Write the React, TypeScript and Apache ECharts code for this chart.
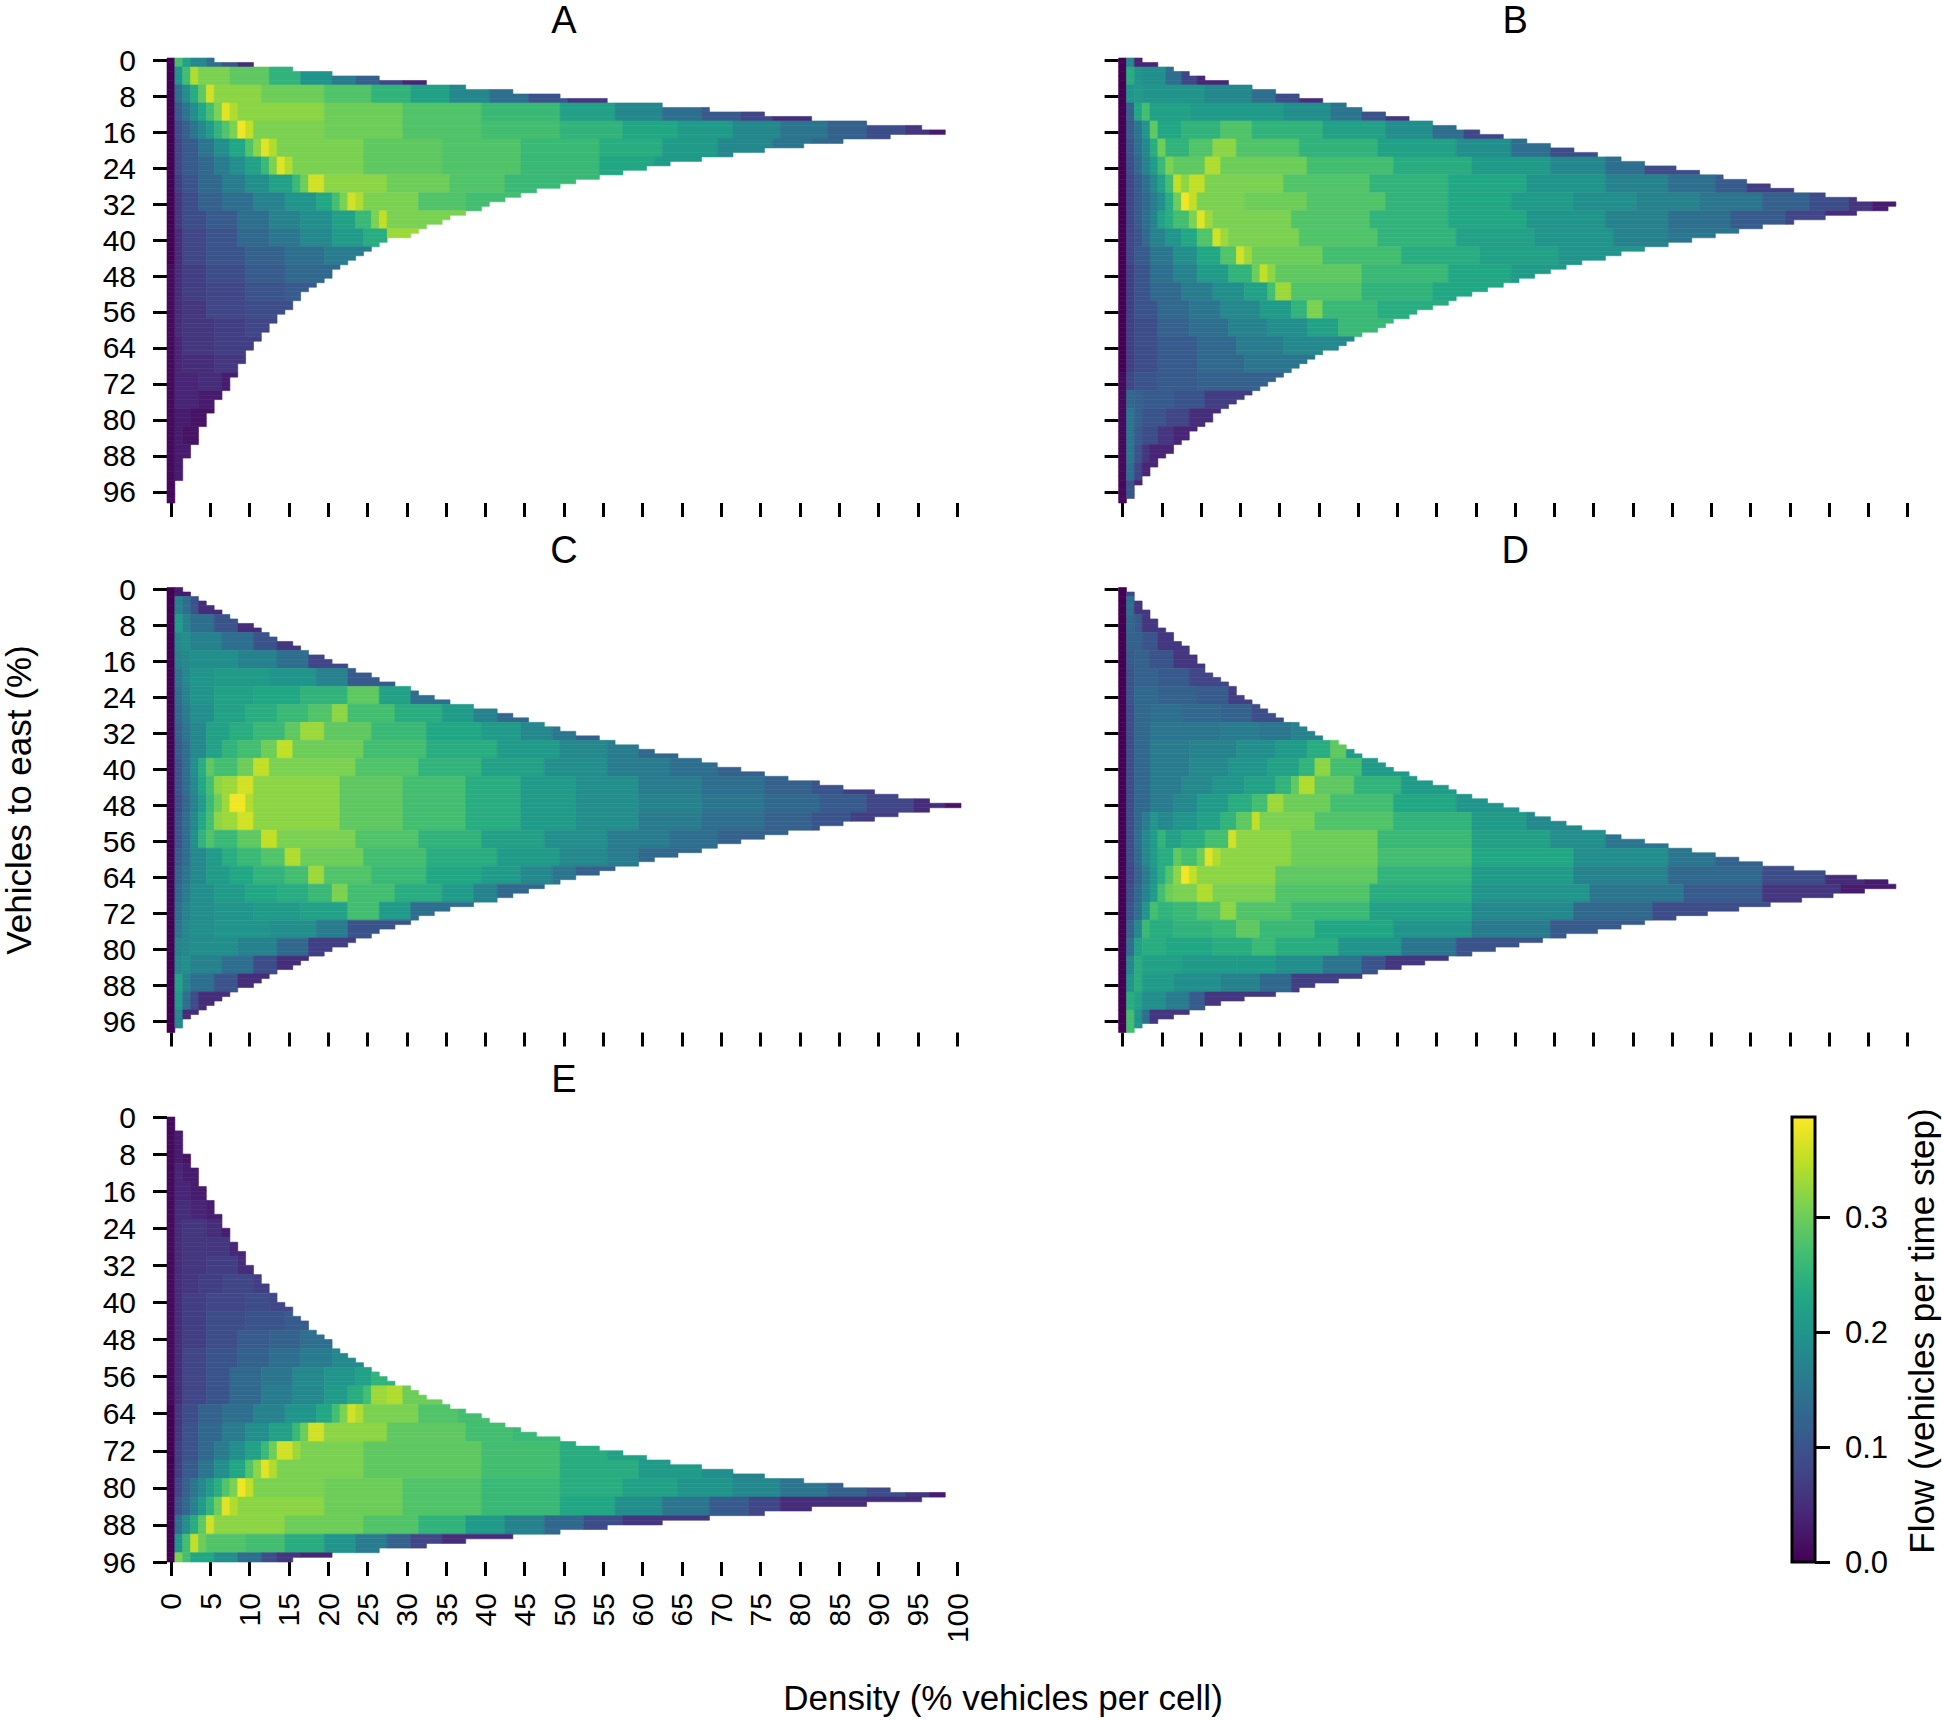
import React, { useEffect, useRef } from 'react';
import * as echarts from 'echarts';

// ---------- tick labels ----------
const X_TICKS = [0, 5, 10, 15, 20, 25, 30, 35, 40, 45, 50, 55, 60, 65, 70, 75, 80, 85, 90, 95, 100];
const Y_TICKS = [0, 8, 16, 24, 32, 40, 48, 56, 64, 72, 80, 88, 96];
const CBAR_TICKS = [0, 0.1, 0.2, 0.3];
const CBAR_MAX = 0.387;
const PANEL_NAMES = ['A', 'B', 'C', 'D', 'E'];
const VIRIDIS = ['#440154', '#482475', '#414487', '#355f8d', '#2a788e', '#21918c', '#22a884', '#44bf70', '#7ad151', '#bddf26', '#fde725'];

// ---------- data: last occupied density column (%) for each "vehicles to east" row ----------
const MAX_COL_A = [5, 10, 15, 20, 26, 32, 37, 43, 49, 55, 62, 68, 75, 81, 88, 95, 98, 91, 85, 80, 75, 71, 67, 63, 60, 57, 54, 51, 49, 46, 44, 42, 40, 39, 37, 35, 34, 32, 31, 30, 27, 26, 25, 24, 23, 22, 21, 20, 20, 19, 18, 17, 16, 16, 15, 15, 14, 13, 13, 12, 12, 11, 11, 10, 10, 9, 9, 9, 8, 8, 8, 7, 7, 7, 6, 6, 5, 5, 5, 4, 4, 4, 3, 3, 3, 3, 2, 2, 2, 1, 1, 1, 1, 1, 0, 0, 0, 0, 0];
const MAX_COL_B = [2, 4, 6, 8, 10, 13, 16, 19, 22, 25, 28, 30, 33, 36, 39, 42, 45, 48, 51, 54, 57, 60, 63, 66, 70, 73, 76, 79, 82, 85, 89, 93, 98, 97, 93, 89, 85, 81, 78, 75, 72, 69, 66, 63, 61, 58, 56, 54, 52, 50, 48, 46, 44, 42, 41, 39, 37, 36, 34, 33, 32, 30, 29, 28, 27, 25, 24, 23, 22, 21, 20, 19, 18, 17, 16, 15, 14, 13, 12, 11, 11, 10, 9, 8, 8, 7, 6, 6, 5, 4, 4, 3, 3, 2, 2, 1, 1, 1, 0];
const MAX_COL_C = [1, 2, 3, 4, 5, 6, 7, 8, 10, 11, 12, 13, 15, 16, 17, 19, 20, 22, 23, 25, 26, 28, 30, 31, 33, 35, 38, 41, 43, 45, 47, 49, 51, 54, 56, 59, 61, 64, 67, 69, 72, 75, 78, 82, 85, 89, 92, 96, 100, 96, 92, 89, 85, 82, 78, 75, 72, 69, 67, 64, 61, 59, 56, 54, 51, 49, 47, 45, 43, 41, 38, 35, 33, 31, 30, 28, 26, 25, 23, 22, 20, 19, 17, 16, 15, 13, 12, 11, 10, 8, 7, 6, 5, 4, 3, 2, 1, 1, 0];
const MAX_COL_D = [0, 1, 1, 2, 2, 3, 3, 4, 4, 5, 6, 6, 7, 8, 8, 9, 9, 10, 10, 11, 12, 13, 14, 14, 15, 16, 17, 18, 19, 20, 22, 23, 24, 25, 27, 28, 29, 30, 32, 33, 34, 36, 37, 39, 41, 42, 44, 46, 48, 50, 52, 54, 56, 58, 61, 63, 66, 69, 72, 75, 78, 81, 85, 89, 93, 97, 98, 94, 90, 86, 82, 78, 74, 70, 66, 63, 60, 56, 53, 50, 47, 44, 41, 38, 35, 32, 30, 27, 24, 22, 19, 15, 12, 10, 8, 6, 4, 2, 1];
const MAX_COL_E = [0, 0, 0, 1, 1, 1, 1, 1, 2, 2, 2, 3, 3, 3, 3, 4, 4, 4, 5, 5, 5, 6, 6, 6, 7, 7, 7, 8, 8, 9, 9, 9, 10, 10, 11, 11, 12, 12, 13, 13, 14, 15, 15, 16, 17, 17, 18, 19, 20, 20, 21, 22, 23, 24, 25, 26, 27, 28, 30, 31, 32, 34, 35, 37, 39, 40, 42, 44, 46, 49, 51, 54, 57, 60, 63, 67, 71, 75, 80, 85, 91, 98, 95, 88, 81, 75, 68, 62, 55, 49, 43, 37, 32, 26, 20, 15];

// ---------- data: flow (x100) read every 4th row, as [first density column, flow] runs ----------
const FLOW_A = [
  [[0, 0], [1, 27], [2, 22], [3, 18], [5, 14], [7, 10], [9, 5]],
  [[0, 0], [1, 20], [2, 27], [3, 34], [4, 31], [8, 29], [13, 25], [17, 20], [21, 16], [24, 12], [27, 8], [30, 4]],
  [[0, 0], [1, 14], [2, 19], [3, 24], [4, 29], [5, 36], [6, 32], [12, 30], [20, 28], [26, 25], [31, 22], [36, 18], [41, 14], [46, 10], [51, 6]],
  [[0, 0], [1, 11], [2, 15], [3, 19], [4, 23], [5, 27], [6, 31], [7, 37], [8, 34], [9, 32], [20, 30], [30, 28], [40, 26], [50, 22], [57, 18], [63, 14], [68, 11], [73, 8], [77, 5]],
  [[0, 0], [1, 9], [2, 12], [3, 15], [4, 18], [5, 21], [6, 25], [7, 28], [8, 31], [9, 38], [10, 35], [11, 31], [20, 30], [30, 28], [40, 27], [50, 25], [58, 23], [65, 21], [72, 18], [78, 15], [84, 12], [89, 9], [94, 6], [97, 3]],
  [[0, 0], [1, 8], [2, 11], [4, 15], [6, 19], [8, 23], [10, 28], [11, 32], [12, 37], [13, 34], [14, 31], [25, 29], [35, 28], [45, 26], [55, 24], [63, 21], [70, 18], [77, 15], [82, 13]],
  [[0, 0], [1, 8], [2, 11], [4, 13], [6, 16], [8, 19], [10, 22], [12, 26], [13, 31], [14, 37], [15, 34], [16, 31], [25, 29], [35, 28], [45, 26], [55, 23], [62, 21]],
  [[0, 0], [1, 7], [2, 10], [4, 13], [7, 16], [10, 19], [13, 22], [16, 26], [17, 30], [18, 36], [20, 32], [28, 30], [36, 28], [43, 26]],
  [[0, 0], [1, 6], [2, 9], [4, 12], [7, 14], [11, 17], [15, 20], [19, 23], [21, 27], [22, 31], [23, 36], [24, 34], [25, 31], [32, 28], [38, 27]],
  [[0, 0], [1, 6], [2, 9], [5, 11], [9, 14], [13, 17], [17, 19], [21, 22], [24, 26], [26, 31], [27, 35], [28, 31]],
  [[0, 0], [1, 5], [2, 8], [5, 10], [9, 13], [13, 15], [17, 18], [21, 21], [25, 24], [28, 33]],
  [[0, 0], [1, 5], [2, 8], [5, 10], [10, 12], [15, 14], [20, 16]],
  [[0, 1], [1, 5], [2, 7], [5, 9], [10, 11], [15, 13]],
  [[0, 1], [1, 5], [2, 7], [5, 8], [10, 10], [15, 11]],
  [[0, 1], [1, 5], [2, 6], [5, 8], [10, 9]],
  [[0, 1], [1, 5], [2, 6], [6, 7], [10, 8]],
  [[0, 1], [1, 4], [2, 6], [6, 7]],
  [[0, 1], [1, 4], [2, 5], [6, 6]],
  [[0, 1], [1, 4], [4, 5], [7, 3]],
  [[0, 1], [1, 4], [4, 3]],
  [[0, 1], [1, 3], [3, 2]],
  [[0, 1], [1, 3], [2, 2]],
  [[0, 1], [1, 3]],
  [[0, 1], [1, 3]],
  [[0, 1]],
];

const FLOW_B = [
  [[0, 0], [1, 18], [2, 4]],
  [[0, 0], [1, 24], [2, 20], [3, 19], [6, 14], [8, 8], [10, 4]],
  [[0, 0], [1, 20], [2, 21], [3, 20], [11, 18], [17, 14], [20, 9], [23, 5]],
  [[0, 0], [1, 12], [2, 23], [3, 27], [4, 22], [9, 21], [21, 19], [27, 15], [31, 10], [34, 6]],
  [[0, 0], [1, 11], [2, 15], [3, 20], [4, 29], [5, 23], [8, 25], [13, 28], [17, 25], [26, 22], [34, 19], [40, 14], [44, 8]],
  [[0, 0], [1, 10], [2, 14], [3, 18], [4, 24], [5, 30], [6, 25], [9, 28], [12, 32], [15, 28], [23, 25], [33, 22], [43, 19], [50, 14], [55, 9]],
  [[0, 0], [1, 9], [2, 13], [3, 17], [4, 21], [5, 26], [6, 31], [7, 29], [11, 34], [13, 30], [24, 27], [35, 24], [45, 21], [55, 18], [62, 14], [67, 9]],
  [[0, 0], [1, 8], [2, 11], [3, 14], [4, 18], [5, 22], [6, 27], [7, 35], [8, 32], [9, 35], [11, 31], [21, 28], [32, 25], [42, 23], [52, 20], [62, 17], [70, 14], [76, 11], [80, 7]],
  [[0, 0], [1, 8], [2, 11], [3, 13], [4, 16], [5, 19], [6, 24], [7, 30], [8, 38], [9, 35], [10, 31], [16, 30], [24, 28], [34, 25], [42, 23], [50, 21], [58, 19], [66, 17], [74, 15], [82, 12], [88, 9], [93, 6], [96, 3]],
  [[0, 0], [1, 8], [2, 11], [3, 14], [4, 17], [5, 22], [6, 24], [7, 27], [9, 31], [10, 37], [11, 33], [12, 31], [22, 28], [32, 25], [42, 23], [52, 20], [62, 17], [70, 14], [78, 11], [85, 8], [90, 5]],
  [[0, 0], [1, 8], [2, 10], [3, 13], [4, 17], [6, 20], [8, 23], [10, 28], [12, 36], [13, 33], [14, 31], [23, 28], [33, 25], [43, 22], [53, 20], [63, 17], [70, 15]],
  [[0, 0], [1, 8], [2, 11], [4, 15], [7, 19], [10, 23], [13, 28], [15, 36], [16, 33], [17, 30], [26, 27], [36, 24], [46, 22], [56, 20]],
  [[0, 0], [1, 7], [2, 10], [4, 14], [7, 17], [10, 21], [14, 25], [17, 30], [18, 35], [19, 32], [20, 29], [31, 26], [42, 23], [50, 21]],
  [[0, 0], [1, 7], [2, 10], [4, 13], [8, 16], [12, 19], [16, 22], [19, 27], [20, 33], [22, 28], [31, 25], [40, 23]],
  [[0, 0], [1, 7], [2, 10], [5, 13], [9, 15], [13, 18], [18, 21], [22, 25], [24, 31], [26, 26], [33, 24]],
  [[0, 0], [1, 7], [2, 9], [5, 12], [9, 14], [14, 17], [19, 19], [24, 22], [28, 26]],
  [[0, 0], [1, 7], [2, 9], [5, 11], [10, 13], [15, 16], [21, 18]],
  [[0, 0], [1, 7], [2, 9], [5, 11], [10, 13], [16, 15]],
  [[0, 1], [1, 8], [2, 10], [5, 11], [10, 12]],
  [[0, 1], [1, 13], [2, 12], [3, 11], [7, 10], [11, 7]],
  [[0, 1], [1, 15], [2, 12], [3, 10], [6, 8], [9, 5]],
  [[0, 1], [1, 15], [2, 11], [3, 9], [5, 6], [7, 4]],
  [[0, 1], [1, 15], [2, 10], [3, 6], [4, 4]],
  [[0, 1], [1, 14], [2, 8], [3, 4]],
  [[0, 1], [1, 10], [2, 4]],
];

const FLOW_C = [
  [[0, 0], [1, 3]],
  [[0, 0], [1, 17], [2, 14], [3, 10], [4, 5]],
  [[0, 0], [1, 21], [2, 17], [3, 14], [6, 10], [9, 5]],
  [[0, 0], [1, 18], [2, 19], [3, 17], [7, 14], [11, 10], [14, 6]],
  [[0, 0], [1, 17], [2, 18], [3, 19], [9, 17], [14, 14], [18, 8]],
  [[0, 0], [1, 15], [2, 18], [3, 20], [6, 21], [13, 20], [19, 17], [23, 11]],
  [[0, 0], [1, 14], [2, 17], [3, 20], [6, 22], [11, 23], [17, 25], [23, 29], [27, 22], [31, 14]],
  [[0, 0], [1, 13], [2, 16], [3, 19], [6, 22], [10, 24], [14, 26], [18, 28], [21, 32], [23, 27], [29, 24], [35, 21], [39, 17], [42, 13]],
  [[0, 0], [1, 12], [2, 15], [3, 18], [5, 22], [8, 24], [11, 26], [15, 29], [17, 33], [20, 29], [26, 26], [33, 23], [40, 21], [45, 18], [49, 15], [52, 12]],
  [[0, 0], [1, 11], [2, 14], [3, 18], [5, 22], [7, 25], [9, 27], [12, 30], [14, 35], [16, 30], [25, 27], [33, 24], [42, 21], [50, 18], [56, 16], [60, 13]],
  [[0, 0], [1, 10], [2, 14], [3, 19], [4, 24], [5, 29], [6, 27], [9, 30], [11, 35], [13, 31], [24, 28], [32, 25], [40, 22], [48, 19], [56, 16], [64, 14], [70, 12]],
  [[0, 0], [1, 10], [2, 14], [3, 18], [4, 23], [5, 27], [6, 32], [7, 33], [9, 36], [11, 32], [22, 29], [30, 27], [38, 24], [45, 21], [52, 19], [60, 16], [68, 14], [76, 12], [82, 10], [86, 7]],
  [[0, 0], [1, 9], [2, 13], [3, 17], [4, 21], [5, 26], [6, 30], [7, 33], [8, 38], [10, 34], [11, 32], [22, 29], [30, 27], [38, 24], [45, 21], [52, 19], [60, 17], [68, 15], [76, 13], [83, 11], [89, 8], [95, 5], [99, 2]],
  [[0, 0], [1, 10], [2, 14], [3, 18], [4, 23], [5, 27], [6, 32], [7, 33], [9, 36], [11, 32], [22, 29], [30, 27], [38, 24], [45, 21], [52, 19], [60, 16], [68, 14], [76, 12], [82, 10], [87, 7]],
  [[0, 0], [1, 10], [2, 14], [3, 19], [4, 25], [5, 28], [6, 26], [9, 29], [12, 35], [14, 31], [24, 28], [32, 25], [40, 22], [48, 19], [56, 16], [64, 14], [70, 12]],
  [[0, 0], [1, 11], [2, 14], [3, 18], [5, 21], [7, 24], [9, 26], [12, 28], [15, 34], [17, 30], [25, 27], [33, 24], [42, 21], [50, 18], [56, 16], [60, 13]],
  [[0, 0], [1, 12], [2, 15], [3, 18], [5, 21], [8, 23], [11, 25], [15, 27], [18, 33], [20, 28], [26, 26], [33, 23], [40, 21], [45, 18], [49, 15], [52, 12]],
  [[0, 0], [1, 13], [2, 16], [3, 19], [6, 21], [10, 23], [14, 24], [18, 26], [21, 31], [23, 27], [29, 24], [35, 21], [39, 17], [42, 13]],
  [[0, 0], [1, 14], [2, 17], [3, 19], [6, 20], [11, 21], [17, 22], [23, 27], [27, 21], [31, 14]],
  [[0, 0], [1, 15], [2, 18], [3, 19], [6, 20], [13, 19], [19, 16], [23, 10]],
  [[0, 0], [1, 17], [2, 18], [3, 19], [9, 17], [14, 13], [18, 7]],
  [[0, 0], [1, 18], [2, 19], [3, 17], [7, 14], [11, 9], [14, 5]],
  [[0, 0], [1, 22], [2, 17], [3, 14], [6, 10], [9, 5]],
  [[0, 0], [1, 21], [2, 14], [3, 9], [4, 5]],
  [[0, 0], [1, 18], [2, 5]],
];

const FLOW_D = [
  [[0, 0], [1, 8]],
  [[0, 0], [1, 14], [2, 6]],
  [[0, 0], [1, 13], [2, 11], [3, 6]],
  [[0, 0], [1, 12], [3, 10], [5, 6]],
  [[0, 0], [1, 11], [2, 12], [4, 10], [7, 6]],
  [[0, 0], [1, 10], [2, 12], [5, 11], [9, 8]],
  [[0, 0], [1, 10], [2, 13], [5, 12], [10, 11], [14, 7]],
  [[0, 0], [1, 9], [2, 13], [4, 14], [8, 13], [13, 12], [17, 9]],
  [[0, 0], [1, 9], [2, 13], [4, 15], [13, 16], [18, 15], [22, 17]],
  [[0, 0], [1, 9], [2, 13], [4, 16], [9, 17], [15, 19], [20, 21], [24, 24], [27, 29], [29, 21]],
  [[0, 0], [1, 9], [2, 13], [4, 16], [9, 18], [14, 20], [19, 22], [23, 25], [25, 32], [27, 27], [31, 21]],
  [[0, 0], [1, 9], [2, 13], [4, 16], [8, 18], [12, 20], [16, 22], [20, 25], [22, 29], [23, 34], [25, 29], [30, 25], [36, 21]],
  [[0, 0], [1, 9], [2, 13], [4, 16], [7, 18], [10, 21], [14, 24], [17, 27], [19, 33], [21, 30], [27, 27], [35, 23], [43, 20]],
  [[0, 0], [1, 9], [2, 13], [3, 16], [4, 20], [5, 18], [7, 20], [10, 22], [13, 25], [15, 29], [17, 35], [18, 31], [25, 28], [35, 25], [45, 21], [52, 18]],
  [[0, 0], [1, 9], [2, 14], [3, 18], [4, 21], [5, 25], [6, 22], [8, 24], [11, 27], [14, 36], [15, 32], [22, 30], [33, 26], [45, 22], [55, 19], [62, 15]],
  [[0, 0], [1, 9], [2, 13], [3, 18], [4, 21], [5, 24], [7, 29], [8, 27], [10, 30], [11, 37], [12, 34], [13, 32], [22, 30], [33, 27], [45, 23], [58, 19], [70, 15], [76, 12]],
  [[0, 0], [1, 8], [2, 12], [3, 16], [4, 20], [5, 24], [6, 28], [7, 32], [8, 38], [9, 35], [10, 32], [20, 29], [33, 25], [45, 21], [58, 17], [70, 13], [82, 9], [90, 5], [95, 3]],
  [[0, 0], [1, 9], [2, 13], [3, 17], [4, 21], [5, 27], [6, 30], [7, 31], [9, 31], [10, 34], [12, 31], [20, 28], [32, 24], [45, 20], [60, 15], [72, 11], [82, 6], [92, 3]],
  [[0, 0], [1, 10], [2, 14], [3, 20], [4, 27], [5, 25], [7, 26], [10, 28], [13, 32], [15, 28], [22, 26], [32, 22], [45, 18], [58, 13], [68, 9]],
  [[0, 0], [1, 12], [2, 18], [3, 26], [4, 24], [7, 25], [12, 26], [15, 29], [18, 26], [25, 23], [35, 20], [45, 16], [55, 11]],
  [[0, 0], [1, 14], [2, 22], [3, 24], [6, 23], [12, 24], [17, 26], [20, 24], [28, 20], [36, 15], [43, 10]],
  [[0, 0], [1, 18], [2, 24], [3, 22], [8, 21], [15, 21], [20, 19], [26, 15], [31, 10], [34, 6]],
  [[0, 0], [1, 20], [2, 24], [3, 21], [7, 19], [13, 17], [18, 13], [22, 7]],
  [[0, 0], [1, 24], [2, 22], [3, 19], [6, 16], [9, 11], [11, 6]],
  [[0, 0], [1, 27], [2, 20], [3, 14], [4, 6]],
];

const FLOW_E = [
  [[0, 1]],
  [[0, 1], [1, 3]],
  [[0, 1], [1, 3], [2, 2]],
  [[0, 1], [1, 4], [2, 3]],
  [[0, 1], [1, 4], [3, 3]],
  [[0, 1], [1, 5], [3, 4], [5, 3]],
  [[0, 1], [1, 5], [2, 6], [5, 5], [7, 3]],
  [[0, 1], [1, 5], [2, 6], [5, 6], [8, 4]],
  [[0, 1], [1, 5], [2, 6], [5, 7], [9, 5]],
  [[0, 1], [1, 5], [2, 6], [4, 7], [7, 8], [11, 7]],
  [[0, 1], [1, 5], [2, 7], [5, 8], [10, 9], [13, 8]],
  [[0, 1], [1, 5], [2, 7], [5, 9], [10, 10], [15, 11]],
  [[0, 1], [1, 5], [2, 7], [5, 9], [9, 11], [13, 12], [17, 14]],
  [[0, 1], [1, 5], [2, 8], [5, 10], [9, 12], [13, 14], [17, 16], [21, 18]],
  [[0, 1], [1, 5], [2, 8], [5, 10], [8, 13], [12, 15], [16, 18], [20, 20], [24, 22], [26, 25]],
  [[0, 1], [1, 5], [2, 8], [5, 10], [8, 13], [12, 16], [16, 18], [20, 21], [23, 24], [25, 27], [26, 33], [28, 34], [30, 30]],
  [[0, 0], [1, 6], [2, 9], [4, 12], [7, 14], [11, 17], [15, 20], [19, 23], [21, 27], [22, 31], [23, 36], [24, 34], [25, 31], [32, 28], [37, 27]],
  [[0, 0], [1, 6], [2, 10], [4, 13], [7, 16], [10, 19], [13, 22], [16, 26], [17, 30], [18, 36], [20, 32], [28, 29], [38, 27], [44, 26]],
  [[0, 0], [1, 7], [2, 10], [4, 13], [6, 16], [8, 19], [10, 22], [12, 26], [13, 30], [14, 36], [16, 33], [17, 31], [25, 29], [40, 27], [50, 24], [56, 22]],
  [[0, 0], [1, 7], [2, 11], [4, 15], [6, 19], [8, 23], [10, 28], [11, 32], [12, 37], [13, 34], [14, 31], [25, 29], [40, 27], [50, 24], [60, 21], [68, 19], [72, 17]],
  [[0, 0], [1, 8], [2, 12], [3, 15], [4, 18], [5, 21], [6, 24], [7, 28], [8, 31], [9, 38], [10, 35], [11, 31], [20, 30], [30, 28], [40, 26], [50, 24], [58, 22], [65, 20], [72, 18], [78, 15], [84, 12], [89, 9], [94, 6], [97, 3]],
  [[0, 0], [1, 10], [2, 13], [3, 17], [4, 21], [5, 25], [6, 30], [7, 37], [8, 34], [9, 32], [20, 30], [30, 28], [40, 26], [50, 23], [57, 19], [63, 15], [69, 11], [74, 8], [78, 5]],
  [[0, 0], [1, 14], [2, 19], [3, 24], [4, 29], [5, 36], [6, 32], [15, 30], [25, 28], [32, 25], [38, 21], [43, 17], [48, 13], [53, 9], [58, 6]],
  [[0, 0], [1, 20], [2, 27], [3, 35], [4, 30], [5, 28], [10, 27], [15, 24], [20, 20], [24, 16], [28, 12], [31, 8], [35, 5]],
  [[0, 0], [1, 31], [2, 27], [3, 23], [6, 19], [9, 14], [12, 9], [14, 6], [17, 4]],
];

// ---------- layout (not data) ----------
const FONT = "'Liberation Sans', Arial, Helvetica, sans-serif";
const PANEL_H = 445;
const LAYOUT = [
  { left: 167, top: 58, width: 794 },
  { left: 1118.6, top: 58, width: 793 },
  { left: 167, top: 587.5, width: 794 },
  { left: 1118.6, top: 587.5, width: 793 },
  { left: 167, top: 1117, width: 794 },
];
const CBAR = { left: 1792, top: 1117, width: 23, height: 445 };

const PANELS = [
  { maxCol: MAX_COL_A, flow: FLOW_A },
  { maxCol: MAX_COL_B, flow: FLOW_B },
  { maxCol: MAX_COL_C, flow: FLOW_C },
  { maxCol: MAX_COL_D, flow: FLOW_D },
  { maxCol: MAX_COL_E, flow: FLOW_E },
];

function buildCells(maxCol: number[], flow: number[][][]) {
  const out: number[][] = [];
  maxCol.forEach((m, r) => {
    const runs = flow[Math.min(Math.round(r / 4), flow.length - 1)];
    for (let i = 0; i < runs.length; i++) {
      const start = runs[i][0];
      if (start > m) break;
      const end = i + 1 < runs.length ? Math.min(runs[i + 1][0] - 1, m) : m;
      out.push([start, end, r, runs[i][1] / 100]);
    }
  });
  return out;
}

const tickStyle = { color: '#000', width: 3 };
const labelStyle = { color: '#000', fontSize: 30, fontFamily: FONT };

export default function App() {
  const ref = useRef<HTMLDivElement>(null);

  useEffect(() => {
    if (!ref.current) return;
    const chart = echarts.init(ref.current, null, { renderer: 'svg', width: 1942, height: 1720 });

    const grids: any[] = [];
    const xAxes: any[] = [];
    const yAxes: any[] = [];
    const series: any[] = [];
    const graphics: any[] = [];

    PANELS.forEach((p, i) => {
      const L = LAYOUT[i];
      const isE = i === 4;
      const nRows = p.maxCol.length;
      grids.push({ left: L.left, top: L.top, width: L.width, height: PANEL_H, containLabel: false });
      xAxes.push({
        gridIndex: i,
        type: 'value',
        min: -0.5,
        max: 100.5,
        position: 'bottom',
        axisLine: { show: false, onZero: false },
        splitLine: { show: false },
        axisTick: { show: true, customValues: X_TICKS, length: 14, lineStyle: tickStyle },
        axisLabel: { show: isE, customValues: X_TICKS, rotate: 90, margin: 31, ...labelStyle },
      });
      yAxes.push({
        gridIndex: i,
        type: 'value',
        inverse: true,
        position: 'left',
        min: isE ? 0 : -0.5,
        max: isE ? nRows : nRows - 0.5,
        axisLine: { show: false, onZero: false },
        splitLine: { show: false },
        axisTick: { show: true, customValues: Y_TICKS, length: 14, lineStyle: tickStyle },
        axisLabel: { show: i % 2 === 0, customValues: Y_TICKS, margin: 31, ...labelStyle },
      });
      const rowShift = isE ? 0 : 0.5;
      series.push({
        type: 'custom',
        coordinateSystem: 'cartesian2d',
        xAxisIndex: i,
        yAxisIndex: i,
        clip: false,
        dimensions: ['c0', 'c1', 'row', 'flow'],
        encode: { x: [0, 1], y: 2 },
        data: buildCells(p.maxCol, p.flow),
        renderItem: (params: any, api: any) => {
          const c0 = api.value(0);
          const c1 = api.value(1);
          const r = api.value(2);
          const a = api.coord([c0 - 0.5, r - rowShift]);
          const b = api.coord([c1 + 0.5, r - rowShift + 1]);
          const color = api.visual('color');
          return {
            type: 'rect',
            shape: {
              x: Math.min(a[0], b[0]),
              y: Math.min(a[1], b[1]),
              width: Math.abs(b[0] - a[0]),
              height: Math.abs(b[1] - a[1]),
            },
            style: { fill: color, stroke: color, lineWidth: 0.6 },
          };
        },
      });
      graphics.push({
        type: 'text',
        x: L.left + L.width / 2,
        y: L.top - 38,
        style: {
          text: PANEL_NAMES[i],
          fill: '#000',
          font: `38px ${FONT}`,
          align: 'center',
          verticalAlign: 'middle',
          textAlign: 'center',
          textVerticalAlign: 'middle',
        },
      });
    });

    // colour bar
    grids.push({ left: CBAR.left, top: CBAR.top, width: CBAR.width, height: CBAR.height, containLabel: false });
    xAxes.push({ gridIndex: 5, type: 'value', min: 0, max: 1, show: false });
    yAxes.push({
      gridIndex: 5,
      type: 'value',
      min: 0,
      max: CBAR_MAX,
      position: 'right',
      axisLine: { show: false, onZero: false },
      splitLine: { show: false },
      axisTick: { show: true, customValues: CBAR_TICKS, length: 15, lineStyle: tickStyle },
      axisLabel: { show: true, customValues: CBAR_TICKS, margin: 30, formatter: (v: number) => v.toFixed(1), ...labelStyle, fontSize: 31 },
    });
    const stops = VIRIDIS.map((c, k) => ({ offset: k / (VIRIDIS.length - 1), color: c }));
    series.push({
      type: 'custom',
      coordinateSystem: 'cartesian2d',
      xAxisIndex: 5,
      yAxisIndex: 5,
      clip: false,
      data: [[0, 0, 1, CBAR_MAX]],
      encode: { x: [0, 2], y: [1, 3] },
      renderItem: (params: any, api: any) => {
        const a = api.coord([api.value(0), api.value(1)]);
        const b = api.coord([api.value(2), api.value(3)]);
        return {
          type: 'rect',
          shape: {
            x: Math.min(a[0], b[0]),
            y: Math.min(a[1], b[1]),
            width: Math.abs(b[0] - a[0]),
            height: Math.abs(b[1] - a[1]),
          },
          style: {
            fill: new echarts.graphic.LinearGradient(0, 1, 0, 0, stops),
            stroke: '#000',
            lineWidth: 3,
          },
        };
      },
    });

    const axisTitle = (text: string, x: number, y: number, rot: number) => ({
      type: 'text',
      x,
      y,
      rotation: rot,
      style: {
        text,
        fill: '#000',
        font: `35px ${FONT}`,
        align: 'center',
        verticalAlign: 'middle',
        textAlign: 'center',
        textVerticalAlign: 'middle',
      },
    });
    graphics.push(axisTitle('Vehicles to east (%)', 18, 800, Math.PI / 2));
    graphics.push(axisTitle('Density (% vehicles per cell)', 1003, 1697, 0));
    graphics.push(axisTitle('Flow (vehicles per time step)', 1921, 1331, Math.PI / 2));

    chart.setOption({
      animation: false,
      backgroundColor: '#ffffff',
      grid: grids,
      xAxis: xAxes,
      yAxis: yAxes,
      visualMap: {
        type: 'continuous',
        show: false,
        min: 0,
        max: CBAR_MAX,
        dimension: 3,
        seriesIndex: [0, 1, 2, 3, 4],
        inRange: { color: VIRIDIS },
      },
      series,
      graphic: graphics,
    });

    return () => chart.dispose();
  }, []);

  return (
    <div
      ref={ref}
      style={{ position: 'absolute', left: 0, top: 0, width: 1942, height: 1720, background: '#fff' }}
    />
  );
}
